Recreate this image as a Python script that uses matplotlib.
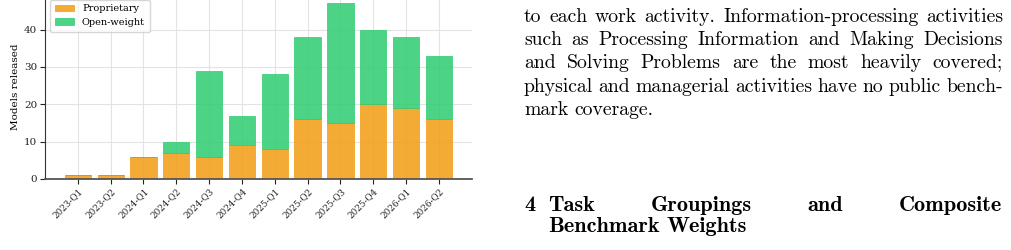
import matplotlib
matplotlib.use("Agg")
import matplotlib.pyplot as plt

quarters = ["2023-Q1", "2023-Q2", "2024-Q1", "2024-Q2", "2024-Q3", "2024-Q4",
            "2025-Q1", "2025-Q2", "2025-Q3", "2025-Q4", "2026-Q1", "2026-Q2"]
proprietary = [1, 1, 6, 7, 6, 9, 8, 16, 15, 20, 19, 16]
open_weight = [0, 0, 0, 3, 23, 8, 20, 22, 32, 20, 19, 17]

body_lines = [
    "to each work activity. Information-processing activities",
    "such as Processing Information and Making Decisions",
    "and Solving Problems are the most heavily covered;",
    "physical and managerial activities have no public bench-",
    "mark coverage.",
]
heading_num = "4"
heading_lines = ["Task Groupings and Composite", "Benchmark Weights"]

W, H = 1012, 250
fig = plt.figure(figsize=(W / 100, H / 100), dpi=100)

# chart, placed in pixel terms of the page crop
ax = fig.add_axes([45 / W, 71 / H, (471.7 - 45) / W, (179 + 5.3) / H])
x = list(range(len(quarters)))
orange = "#f39c12"
green = "#2ecc71"
ax.bar(x, proprietary, width=0.8, color=orange, alpha=0.85,
       edgecolor=orange, linewidth=0.6, label="Proprietary", zorder=2)
ax.bar(x, open_weight, width=0.8, bottom=proprietary, color=green, alpha=0.85,
       edgecolor=green, linewidth=0.6, label="Open-weight", zorder=2)

ax.set_xlim(-1, 12)
ax.set_ylim(0, 49.35)
ax.set_yticks([0, 10, 20, 30, 40])
ax.set_xticks(x)
ax.set_xticklabels(quarters, rotation=45, ha="right", rotation_mode="anchor",
                   family="DejaVu Serif", fontsize=6.3)
for lab in ax.get_yticklabels():
    lab.set_family("DejaVu Serif")
    lab.set_fontsize(7.5)
ax.tick_params(axis="both", length=3.5, width=0.8, pad=2, colors="#222222")
ax.set_ylabel("Models released", family="DejaVu Serif", fontsize=7.5, labelpad=3)
ax.grid(True, color="#e3e3e3", linewidth=0.8, zorder=0)
ax.set_axisbelow(True)
for s in ["top", "right"]:
    ax.spines[s].set_visible(False)
ax.spines["left"].set_color("#333333")
ax.spines["bottom"].set_color("#555555")
ax.spines["bottom"].set_linewidth(1.3)
leg = ax.legend(loc="upper left", prop={"family": "DejaVu Serif", "size": 7},
                frameon=True, borderpad=0.5, handlelength=2.0, framealpha=0.8,
                edgecolor="#cccccc", fancybox=True)

# page text to the right of the chart
renderer = fig.canvas.get_renderer()


def px(xp, yp):
    return xp / W, 1 - yp / H


def justified(words, x0, x1, y, family, size, weight="normal", justify=True):
    texts = [fig.text(0, 0, w, family=family, fontsize=size, weight=weight,
                      va="baseline", ha="left") for w in words]
    widths = [t.get_window_extent(renderer).width for t in texts]
    if justify and len(words) > 1:
        gap = (x1 - x0 - sum(widths)) / (len(words) - 1)
    else:
        gap = 0.33 * size * 100 / 72
    cx = x0
    for t, w in zip(texts, widths):
        t.set_position(px(cx, y))
        cx += w + gap


base_y = [21.7, 45.0, 68.3, 91.7, 115.0]
for i, line in enumerate(body_lines):
    justified(line.split(), 524, 1003, base_y[i], "cmr10", 14.2,
              justify=(i < len(body_lines) - 1))

fig.text(*px(524, 211), heading_num, family="cmb10", fontsize=16,
         va="baseline", ha="left")
justified(heading_lines[0].split(), 547.7, 1001.7, 211, "cmb10", 16)
justified(heading_lines[1].split(), 547.7, 1001.7, 232, "cmb10", 16,
          justify=False)

fig.savefig("out.png", dpi=100)
